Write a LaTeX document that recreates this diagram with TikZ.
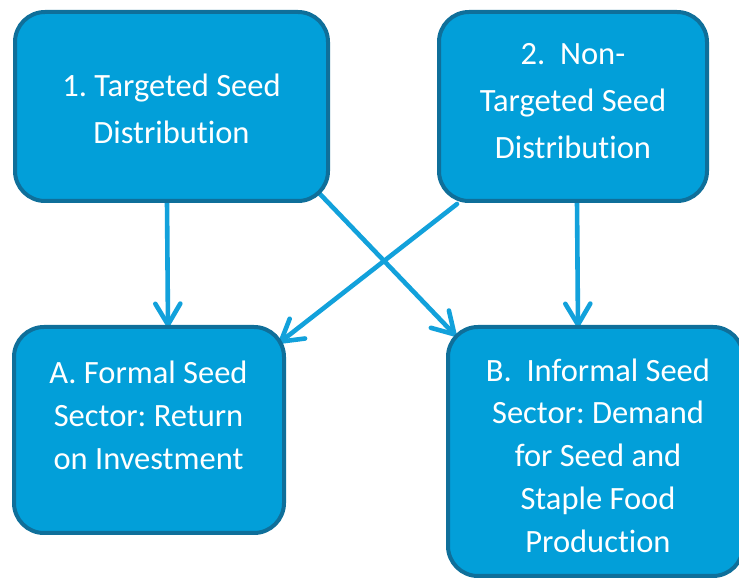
\documentclass[tikz,border=0pt]{standalone}
\usepackage{fontspec}
\setmainfont{Carlito}[Ligatures={NoCommon,NoRare,NoContextual}]
\usetikzlibrary{arrows.meta}
\definecolor{boxfill}{HTML}{029FD9}
\definecolor{boxline}{HTML}{0F6F9A}
\definecolor{arrowblue}{HTML}{12A1DB}
\pgfdeclarelayer{background}
\pgfsetlayers{background,main}
\begin{document}
\frenchspacing
\begin{tikzpicture}[x=1pt,y=1pt,
  card/.style={draw=boxline, fill=boxfill, line width=4pt, rounded corners=30pt,
    inner sep=0pt, outer sep=0pt},
  cardtext/.style={text=white, align=center, inner sep=0pt},
  toptext/.style={cardtext, font=\fontsize{32.5}{47}\selectfont},
  lowtext/.style={cardtext, font=\fontsize{32.5}{42.7}\selectfont},
  link/.style={draw=arrowblue, line width=4.6pt, line cap=round,
    -{Straight Barb[length=21pt,width=25pt,line cap=round,line join=round]}}]
\useasboundingbox (0,0) rectangle (739,581);

% boxes
\node[card, minimum width=313pt, minimum height=189pt] (b1) at (171.5,474.5) {};
\node[card, minimum width=268pt, minimum height=189pt] (b2) at (573,474.5) {};
\node[card, minimum width=270pt, minimum height=206pt] (bA) at (149,151) {};
\node[card, minimum width=295pt, minimum height=249pt] (bB) at (595.5,129.5) {};

% labels
\node[toptext] (t1) at (171.5,472.5) {1. Targeted Seed\\Distribution};
\node[toptext] (t2) at (573,479.5) {2.~~Non-\\Targeted Seed\\Distribution};
\node[lowtext] (tA) at (148.5,165.5) {A. Formal Seed\\Sector: Return\\on Investment};
\node[lowtext] (tB) at (598,125.5) {B.~~Informal Seed\\Sector: Demand\\for Seed and\\Staple Food\\Production};

% connectors
\begin{pgfonlayer}{background}
\draw[link] ([xshift=-4.5pt]b1.south) -- ([xshift=19pt]bA.north);
\draw[link] ([xshift=4pt]b2.south) -- ([xshift=-17.5pt]bB.north);
\draw[link] ([shift={(-9pt,8pt)}]b1.south east) -- ([shift={(8pt,-9pt)}]bB.north west);
\draw[link] ([shift={(18pt,-3pt)}]b2.south west) -- ([shift={(-5pt,-16pt)}]bA.north east);
\end{pgfonlayer}
\end{tikzpicture}
\end{document}
